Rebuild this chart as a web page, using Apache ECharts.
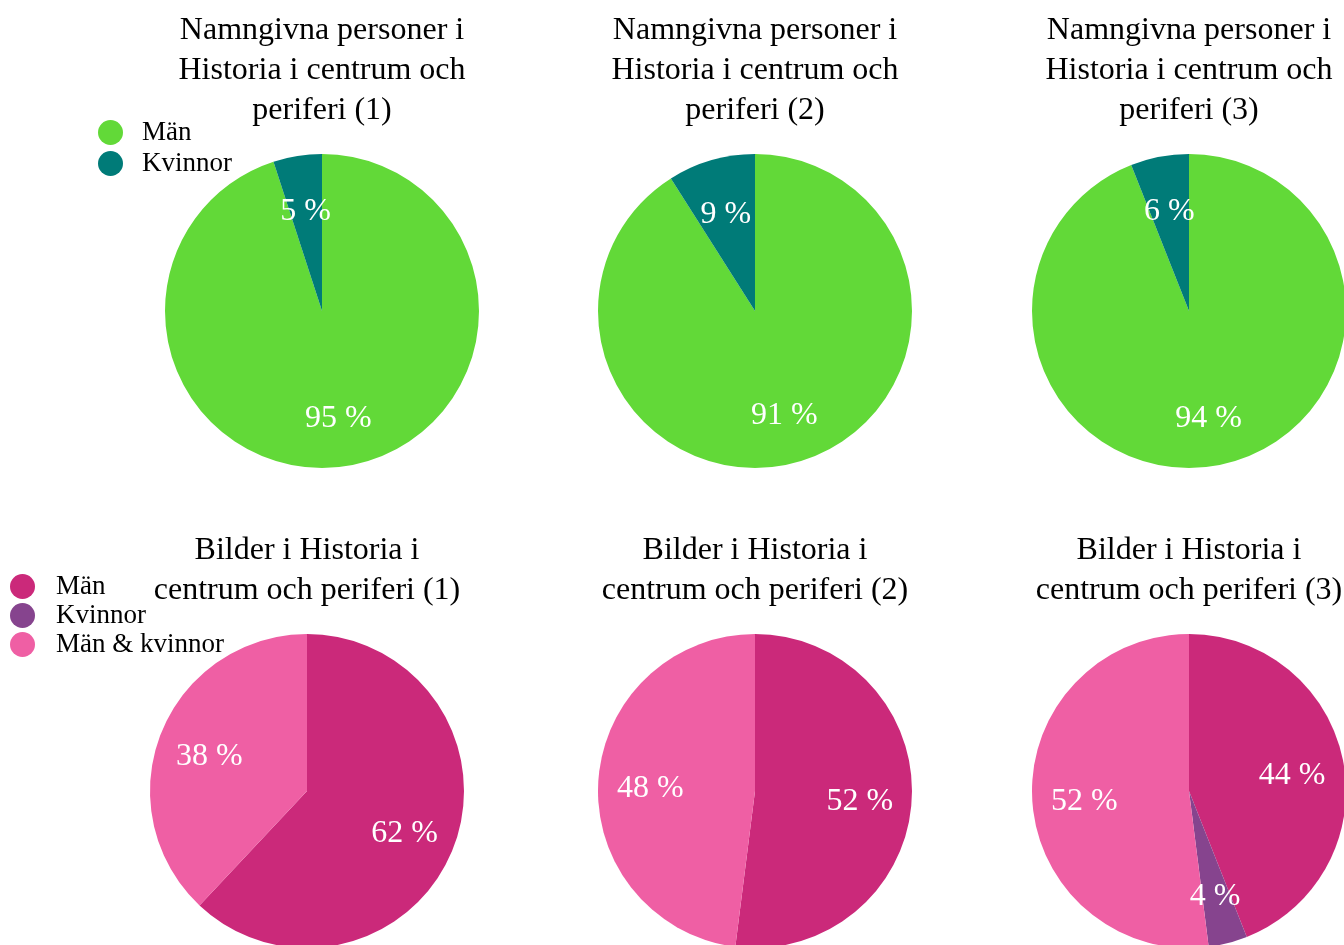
<!DOCTYPE html>
<html>
<head>
<meta charset="utf-8">
<script src="https://cdn.jsdelivr.net/npm/echarts@6/dist/echarts.min.js"></script>
<style>
  html, body { margin: 0; padding: 0; background: #fff; }
  #chart { width: 1344px; height: 945px; }
</style>
</head>
<body>
<div id="chart"></div>
<script>
// data
const topTitles = [
  'Namngivna personer i\nHistoria i centrum och\nperiferi (1)',
  'Namngivna personer i\nHistoria i centrum och\nperiferi (2)',
  'Namngivna personer i\nHistoria i centrum och\nperiferi (3)'
]
const topCategories = ['Män', 'Kvinnor']
const topValues = [
  [95, 5],
  [91, 9],
  [94, 6]
]
const bottomTitles = [
  'Bilder i Historia i\ncentrum och periferi (1)',
  'Bilder i Historia i\ncentrum och periferi (2)',
  'Bilder i Historia i\ncentrum och periferi (3)'
]
const bottomCategories = ['Män', 'Kvinnor', 'Män & kvinnor']
const bottomValues = [
  [62, 0, 38],
  [52, 0, 48],
  [44, 4, 52]
]

// styles
const FONT = '"Liberation Serif", "Times New Roman", serif'
const topColors = ['#62d938', '#007b78']
const bottomColors = ['#cb297a', '#86448e', '#ef5fa4']
const pieX = [322, 755, 1189]
const topY = 311
const bottomX = [307, 755, 1189]
const bottomY = 791
const R = 157

const chart = echarts.init(document.getElementById('chart'))

const titles = []
const series = []

function addPie(title, cats, vals, colors, cx, cy, titleTop) {
  titles.push({
    text: title,
    left: cx,
    top: titleTop,
    textAlign: 'center',
    padding: 0,
    textStyle: {
      fontFamily: FONT,
      fontWeight: 'normal',
      fontSize: 32,
      lineHeight: 40,
      color: '#000'
    }
  })
  series.push({
    type: 'pie',
    center: [cx, cy],
    radius: R,
    startAngle: 90,
    clockwise: true,
    label: { show: false },
    labelLine: { show: false },
    itemStyle: { borderWidth: 0 },
    emphasis: { disabled: true },
    silent: true,
    data: cats.map((name, i) => ({
      name,
      value: vals[i],
      itemStyle: { color: colors[i] }
    }))
  })
  // transparent ring, only there to put the labels further out
  series.push({
    type: 'pie',
    center: [cx, cy],
    radius: [47, R],
    startAngle: 90,
    clockwise: true,
    silent: true,
    emphasis: { disabled: true },
    itemStyle: { color: 'rgba(0,0,0,0)', borderWidth: 0 },
    label: {
      show: true,
      position: 'inside',
      offset: [0, 4],
      fontFamily: FONT,
      fontSize: 32,
      color: '#fff',
      formatter: p => (p.value > 0 ? p.value + ' %' : '')
    },
    labelLine: { show: false },
    data: cats.map((name, i) => ({ name, value: vals[i] }))
  })
}

topValues.forEach((v, i) => addPie(topTitles[i], topCategories, v, topColors, pieX[i], topY, 11))
bottomValues.forEach((v, i) => addPie(bottomTitles[i], bottomCategories, v, bottomColors, bottomX[i], bottomY, 531))

const legendText = { fontFamily: FONT, fontSize: 27, color: '#000' }

const option = {
  backgroundColor: '#fff',
  animation: false,
  title: titles,
  legend: [
    {
      orient: 'vertical',
      left: 98,
      top: 119,
      padding: 0,
      icon: 'circle',
      itemWidth: 25,
      itemHeight: 25,
      itemGap: 4,
      selectedMode: false,
      textStyle: { ...legendText, padding: [0, 0, 0, 14] },
      data: topCategories.map((name, i) => ({ name, itemStyle: { color: topColors[i] } }))
    },
    {
      orient: 'vertical',
      left: 10,
      top: 573,
      padding: 0,
      icon: 'circle',
      itemWidth: 25,
      itemHeight: 25,
      itemGap: 2,
      selectedMode: false,
      textStyle: { ...legendText, padding: [0, 0, 0, 16] },
      data: bottomCategories.map((name, i) => ({ name, itemStyle: { color: bottomColors[i] } }))
    }
  ],
  series
}

chart.setOption(option)
</script>
</body>
</html>
